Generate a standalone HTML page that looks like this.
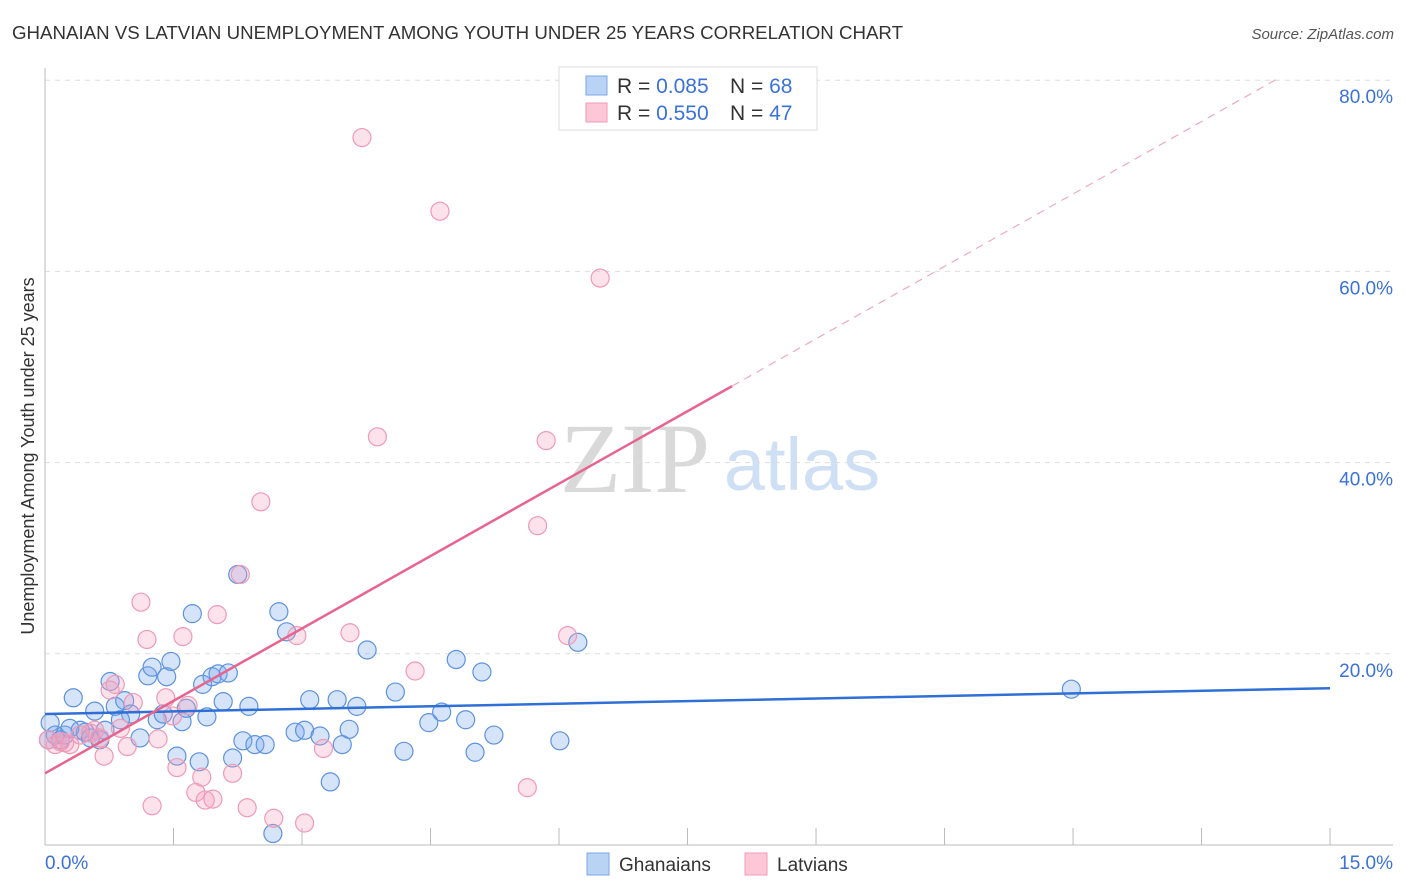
<!DOCTYPE html>
<html><head><meta charset="utf-8"><style>
body{margin:0;background:#fff;font-family:"Liberation Sans",sans-serif;}
#wrap{position:relative;width:1406px;height:892px;overflow:hidden;}
</style></head><body>
<div id="wrap">
<svg id="svg" width="1406" height="892" xmlns="http://www.w3.org/2000/svg">
<text x="12" y="39" font-size="18" fill="#333" textLength="891" lengthAdjust="spacingAndGlyphs">GHANAIAN VS LATVIAN UNEMPLOYMENT AMONG YOUTH UNDER 25 YEARS CORRELATION CHART</text>
<text x="1394" y="39" font-size="15" fill="#555" text-anchor="end" font-style="italic">Source: ZipAtlas.com</text>
<text x="635" y="492" font-size="100" fill="#d9d9d9" text-anchor="middle" font-family="Liberation Serif, serif">ZIP</text>
<text x="802" y="490" font-size="74" fill="#cfe0f5" text-anchor="middle">atlas</text>
<text transform="translate(34,456) rotate(-90)" font-size="18" fill="#333" text-anchor="middle">Unemployment Among Youth under 25 years</text>
<g id="grid"></g><g id="pts"></g><g id="lines"></g>
<g>
<rect x="559" y="67" width="258" height="63" fill="#fff" stroke="#ddd"/>
<rect x="586" y="76" width="21" height="19" fill="#b9d3f5" stroke="#7aa7e6"/>
<rect x="586" y="103" width="21" height="19" fill="#fcc8d8" stroke="#f09ab4"/>
<text x="617" y="93" font-size="21" fill="#333">R = <tspan fill="#3b72d9">0.085</tspan><tspan x="730">N = </tspan><tspan fill="#3b72d9">68</tspan></text>
<text x="617" y="120" font-size="21" fill="#333">R = <tspan fill="#3b72d9">0.550</tspan><tspan x="730">N = </tspan><tspan fill="#3b72d9">47</tspan></text>
</g>
<g>
<rect x="587" y="853" width="22" height="22" fill="#b9d3f5" stroke="#7aa7e6"/>
<text x="619" y="871" font-size="19" fill="#333">Ghanaians</text>
<rect x="745" y="853" width="22" height="22" fill="#fcc8d8" stroke="#f09ab4"/>
<text x="777" y="871" font-size="19" fill="#333">Latvians</text>
</g>
</svg>
</div>
<script>
const yTicks=[20,40,60,80];
const xTickLabels=["0.0%","15.0%"];
const blueX=[0.33,0.58,0.76,0.82,0.93,1.00,1.11,1.20,1.25,1.31,1.38,1.42,1.47,1.54,1.60,1.65,1.72,1.80,1.84,1.89,1.95,2.02,2.08,2.14,2.19,2.25,2.31,2.38,2.45,2.57,2.66,2.73,2.82,2.92,3.03,3.09,3.21,3.33,3.41,3.47,3.55,3.64,3.76,4.09,4.19,4.48,4.63,4.80,4.91,5.02,5.10,5.24,6.01,6.22,11.98,0.06,0.12,0.18,0.23,0.41,0.47,0.53,0.64,0.70,0.04,0.29,0.88];
const blueY=[15.4,14.0,17.1,14.5,15.1,13.7,11.2,17.7,18.6,13.1,13.7,17.6,19.2,9.3,12.9,14.3,24.2,8.7,16.8,13.4,17.6,17.9,15.0,18.0,9.1,28.3,10.9,14.5,10.5,10.5,1.2,24.4,22.3,11.8,12.0,15.2,11.4,6.6,15.2,10.5,12.1,14.5,20.4,16.0,9.8,12.8,13.9,19.4,13.1,9.7,18.1,11.5,10.9,21.2,16.3,12.8,11.5,11.0,11.5,12.0,11.8,11.2,11.0,12.0,11.0,12.2,13.1];
const pinkX=[3.70,4.61,6.48,3.88,5.85,2.52,5.75,2.28,1.12,1.19,1.61,2.01,2.94,3.56,6.10,4.32,0.76,0.82,1.03,1.41,1.67,1.49,1.32,0.96,0.69,1.54,1.83,2.19,1.76,1.87,1.96,1.25,2.36,2.67,3.03,3.25,5.63,0.12,0.18,0.23,0.29,0.41,0.53,0.58,0.64,0.88,0.04];
const pinkY=[74.0,66.3,59.3,42.7,42.3,35.9,33.4,28.3,25.4,21.5,21.8,24.1,21.9,22.2,21.9,18.2,16.2,16.8,14.9,15.4,14.6,13.5,11.1,10.3,9.3,8.1,7.1,7.5,5.5,4.7,4.8,4.1,3.9,2.8,2.3,10.1,6.0,10.5,10.8,10.7,10.5,11.5,11.7,12.0,11.2,12.2,11.0];
const blueFit=[13.7,16.4];
const pinkFit=[7.5,5.05];
const NS="http://www.w3.org/2000/svg";
const sx=v=>45+v*85.67, sy=v=>845-v*9.56;
function mk(tag,a,parent){const e=document.createElementNS(NS,tag);for(const k in a)e.setAttribute(k,a[k]);document.getElementById(parent).appendChild(e);return e;}
yTicks.forEach(t=>{
 const l=mk('line',{x1:45,x2:1393,y1:sy(t),y2:sy(t),stroke:'#ddd','stroke-dasharray':'5,5'},'grid');
 
 
 const tx=mk('text',{x:1393,y:sy(t)+23,'font-size':19,fill:'#3b72d9','text-anchor':'end'},'grid');tx.textContent=t.toFixed(1)+'%';
 
 
});
let ax=mk('line',{x1:45,x2:1393,y1:845,y2:845,stroke:'#bbb'},'grid');


let ay=mk('line',{x1:45,x2:45,y1:68,y2:845,stroke:'#bbb'},'grid');


for(let i=1;i<=10;i++){const t=mk('line',{x1:sx(i*1.5),x2:sx(i*1.5),y1:828,y2:845,stroke:'#bbb'},'grid');
 
 }
[[0,'start',45],[1,'end',1393]].forEach(([i,an,x])=>{const t=mk('text',{x:x,y:869,'font-size':19,fill:'#3b72d9','text-anchor':an},'grid');t.textContent=xTickLabels[i];
 
 });
blueX.forEach((x,i)=>{const c=mk('circle',{cx:sx(x),cy:sy(blueY[i]),r:9,fill:'rgba(120,165,235,0.3)',stroke:'#5d92e0','stroke-width':1.2},'pts');
 
 });
pinkX.forEach((x,i)=>{const c=mk('circle',{cx:sx(x),cy:sy(pinkY[i]),r:9,fill:'rgba(245,160,190,0.3)',stroke:'#f09ab4','stroke-width':1.2},'pts');
 
 });
let bl=mk('line',{x1:sx(0),y1:sy(blueFit[0]),x2:sx(15),y2:sy(blueFit[1]),stroke:'#2f6fd6','stroke-width':2.5},'lines');


const pend=8.02, pmax=(80.2-pinkFit[0])/pinkFit[1];
let pl=mk('line',{x1:sx(0),y1:sy(pinkFit[0]),x2:sx(pend),y2:sy(pinkFit[0]+pinkFit[1]*pend),stroke:'#e8648e','stroke-width':2.5},'lines');


let pd=mk('line',{x1:sx(pend),y1:sy(pinkFit[0]+pinkFit[1]*pend),x2:sx(pmax),y2:sy(pinkFit[0]+pinkFit[1]*pmax),stroke:'#eeaabf','stroke-width':1.2,'stroke-dasharray':'8,6'},'lines');


</script>
</body></html>
